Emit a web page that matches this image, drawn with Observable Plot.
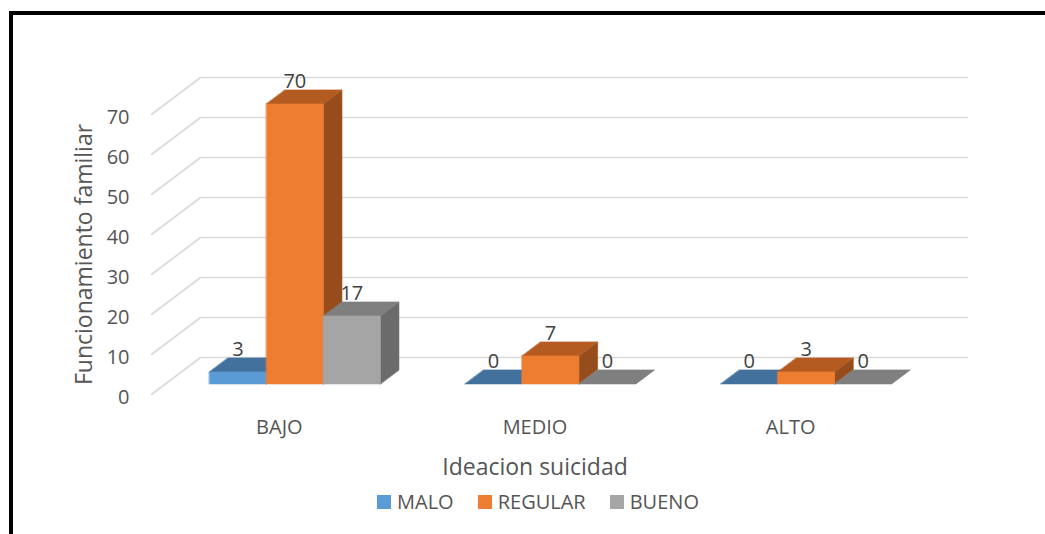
<!DOCTYPE html>
<html><head><meta charset="utf-8">
<script src="https://cdn.jsdelivr.net/npm/d3@7"></script>
<script src="https://cdn.jsdelivr.net/npm/@observablehq/plot@0.6"></script>
<style>
html,body{margin:0;padding:0;background:#fff;width:1045px;height:534px;overflow:hidden;font-family:"Open Sans",sans-serif;}
#frame{position:absolute;left:9px;top:11px;width:1100px;height:600px;border-top:4px solid #000;border-left:4px solid #000;box-sizing:border-box;}
#chart{position:absolute;left:0;top:0;}
#legend{position:absolute;left:0;top:488px;width:1076px;height:28px;display:flex;justify-content:center;align-items:center;font-size:20px;color:#555;line-height:28px;}
.item{display:flex;align-items:center;margin:0 12px;}
.sw{width:14px;height:14px;margin-right:6px;display:inline-block;}
</style></head>
<body>
<div id="frame"></div>
<div id="chart"></div>
<div id="legend"></div>
<script>
const categories = ["BAJO", "MEDIO", "ALTO"];
const seriesNames = ["MALO", "REGULAR", "BUENO"];
const malo = [3, 0, 0];
const regular = [70, 7, 3];
const bueno = [17, 0, 0];
const yTicks = [0, 10, 20, 30, 40, 50, 60, 70];
const frontColors = ["#5B9BD5", "#ED7D31", "#A5A5A5"];
const topColors = ["#43719D", "#B45B22", "#7F7F7F"];
const sideColors = ["#3A6590", "#974C1C", "#6B6B6B"];

const seriesValues = [malo, regular, bueno];

// oblique (pseudo-3D) geometry, in data units
const DX = 0.1917, DY = 9.25;      // full floor depth offset (x units, value units)
const dFront = 0.285, dBack = 0.665; // bar front/back depth fraction
const barW = 0.2229;                 // bar width in category units

const clusterCenter = i => i + 0.5 + dFront * DX + 0.006;

const polys = [];
let pid = 0;
const add = (pts, fill) => { const id = pid++; pts.forEach(([x, y]) => polys.push({id, x, y, fill})); };
const labels = [];
categories.forEach((c, i) => {
  const cx = clusterCenter(i);
  seriesValues.forEach((vals, j) => {
    const v = vals[i];
    const xl = cx - 1.5 * barW + j * barW, xr = xl + barW;
    const y0 = dFront * DY, y1 = y0 + v;
    const ox = (dBack - dFront) * DX, oy = (dBack - dFront) * DY;
    if (v > 0) add([[xr, y0], [xr, y1], [xr + ox, y1 + oy], [xr + ox, y0 + oy]], sideColors[j]);
    add([[xl, y1], [xr, y1], [xr + ox, y1 + oy], [xl + ox, y1 + oy]], topColors[j]);
    if (v > 0) add([[xl, y0], [xr, y0], [xr, y1], [xl, y1]], frontColors[j]);
    labels.push({x: (xl + xr) / 2, y: v + dBack * DY, text: String(v)});
  });
});

const grid = yTicks.flatMap(v => [
  {v, x: 0, y: v},
  {v, x: DX, y: v + DY},
  {v, x: categories.length + DX, y: v + DY}
]);

const chart = Plot.plot({
  width: 1045, height: 480,
  marginLeft: 151, marginRight: 127, marginTop: 114, marginBottom: 86,
  x: {domain: [0, categories.length], label: null},
  y: {domain: [0, 70], label: null},
  color: {type: "identity"},
  style: {fontFamily: "Open Sans", background: "transparent", overflow: "visible"},
  marks: [
    Plot.line(grid, {x: "x", y: "y", z: "v", stroke: "#D9D9D9", strokeWidth: 1.6}),
    Plot.axisY({ticks: yTicks, tickSize: 0, tickPadding: 22, fontSize: 20, fill: "#555", dy: 3, label: null}),
    Plot.axisX({ticks: categories.map((c, i) => i + 0.5), tickFormat: d => categories[Math.round(d - 0.5)], tickSize: 0, tickPadding: 25, fontSize: 20, fill: "#555", label: null}),
    Plot.line(polys, {x: "x", y: "y", z: "id", fill: "fill", stroke: "fill", strokeWidth: 0.6, curve: "linear-closed"}),
    Plot.text(labels, {x: "x", y: "y", text: "text", fontSize: 20, fill: "#404040", dy: -8, lineAnchor: "middle"}),
    Plot.text(["Funcionamiento familiar"], {frameAnchor: "left", textAnchor: "middle", lineAnchor: "middle", rotate: -90, dx: -67, fontSize: 23, fill: "#555"}),
    Plot.text(["Ideacion suicidad"], {frameAnchor: "bottom", textAnchor: "middle", lineAnchor: "middle", dy: 73, fontSize: 23, fill: "#555"})
  ]
});
document.getElementById("chart").appendChild(chart);

const legend = document.getElementById("legend");
seriesNames.forEach((s, j) => {
  const it = document.createElement("div");
  it.className = "item";
  const sw = document.createElement("span");
  sw.className = "sw";
  sw.style.background = frontColors[j];
  const t = document.createElement("span");
  t.textContent = s;
  it.appendChild(sw); it.appendChild(t);
  legend.appendChild(it);
});
</script>
</body></html>
